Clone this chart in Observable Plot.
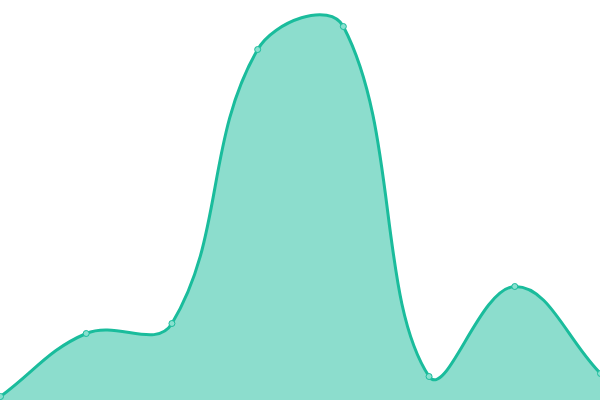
<!DOCTYPE html>
<html>
<head>
<meta charset="utf-8">
<script src="https://cdn.jsdelivr.net/npm/d3@7"></script>
<script src="https://cdn.jsdelivr.net/npm/@observablehq/plot@0.6"></script>
<style>
html, body { margin: 0; padding: 0; background: #fff; overflow: hidden; }
</style>
</head>
<body>
<div id="chart"></div>
<script>
const xs = [0, 1, 2, 3, 4, 5, 6, 7];
const values = [4, 67, 77, 351, 374, 24, 114, 27];
const data = xs.map((x, i) => ({x, y: values[i]}));

const W = 600, H = 400, TENSION = 0.4;

// Tension-based bezier spline (Chart.js-style), as a d3 curve factory
function splineCurve(context) {
  let pts = [], line = NaN;
  const cap = (v, lo, hi) => Math.max(lo, Math.min(hi, v));
  return {
    areaStart() { line = 0; },
    areaEnd() { line = NaN; },
    lineStart() { pts = []; },
    point(x, y) { pts.push([+x, +y]); },
    lineEnd() {
      const n = pts.length;
      if (n) {
        const cps = pts.map((p, i) => {
          const prev = pts[Math.max(0, i - 1)], next = pts[Math.min(n - 1, i + 1)];
          const d01 = Math.hypot(p[0] - prev[0], p[1] - prev[1]);
          const d12 = Math.hypot(next[0] - p[0], next[1] - p[1]);
          let s01 = d01 / (d01 + d12), s12 = d12 / (d01 + d12);
          if (!isFinite(s01)) s01 = 0;
          if (!isFinite(s12)) s12 = 0;
          const fa = TENSION * s01, fb = TENSION * s12;
          const dx = next[0] - prev[0], dy = next[1] - prev[1];
          return {
            px: cap(p[0] - fa * dx, 0, W), py: cap(p[1] - fa * dy, 0, H),
            nx: cap(p[0] + fb * dx, 0, W), ny: cap(p[1] + fb * dy, 0, H)
          };
        });
        if (line) context.lineTo(pts[0][0], pts[0][1]);
        else context.moveTo(pts[0][0], pts[0][1]);
        for (let i = 1; i < n; i++) {
          context.bezierCurveTo(cps[i - 1].nx, cps[i - 1].ny, cps[i].px, cps[i].py, pts[i][0], pts[i][1]);
        }
      }
      if (line || (line !== 0 && n === 1)) context.closePath();
      line = 1 - line;
    }
  };
}

const chart = Plot.plot({
  width: W,
  height: H,
  margin: 0,
  x: {domain: [0, 7], axis: null},
  y: {domain: [0, 400], axis: null},
  marks: [
    Plot.areaY(data, {x: "x", y: "y", curve: splineCurve, fill: "#1abc9c", fillOpacity: 0.5}),
    Plot.lineY(data, {x: "x", y: "y", curve: splineCurve, stroke: "#1abc9c", strokeWidth: 3}),
    Plot.dot(data, {x: "x", y: "y", r: 3, fill: "#88e0cf", stroke: "#1abc9c", strokeWidth: 1})
  ]
});
chart.style.overflow = "visible";
document.getElementById("chart").appendChild(chart);
</script>
</body>
</html>
